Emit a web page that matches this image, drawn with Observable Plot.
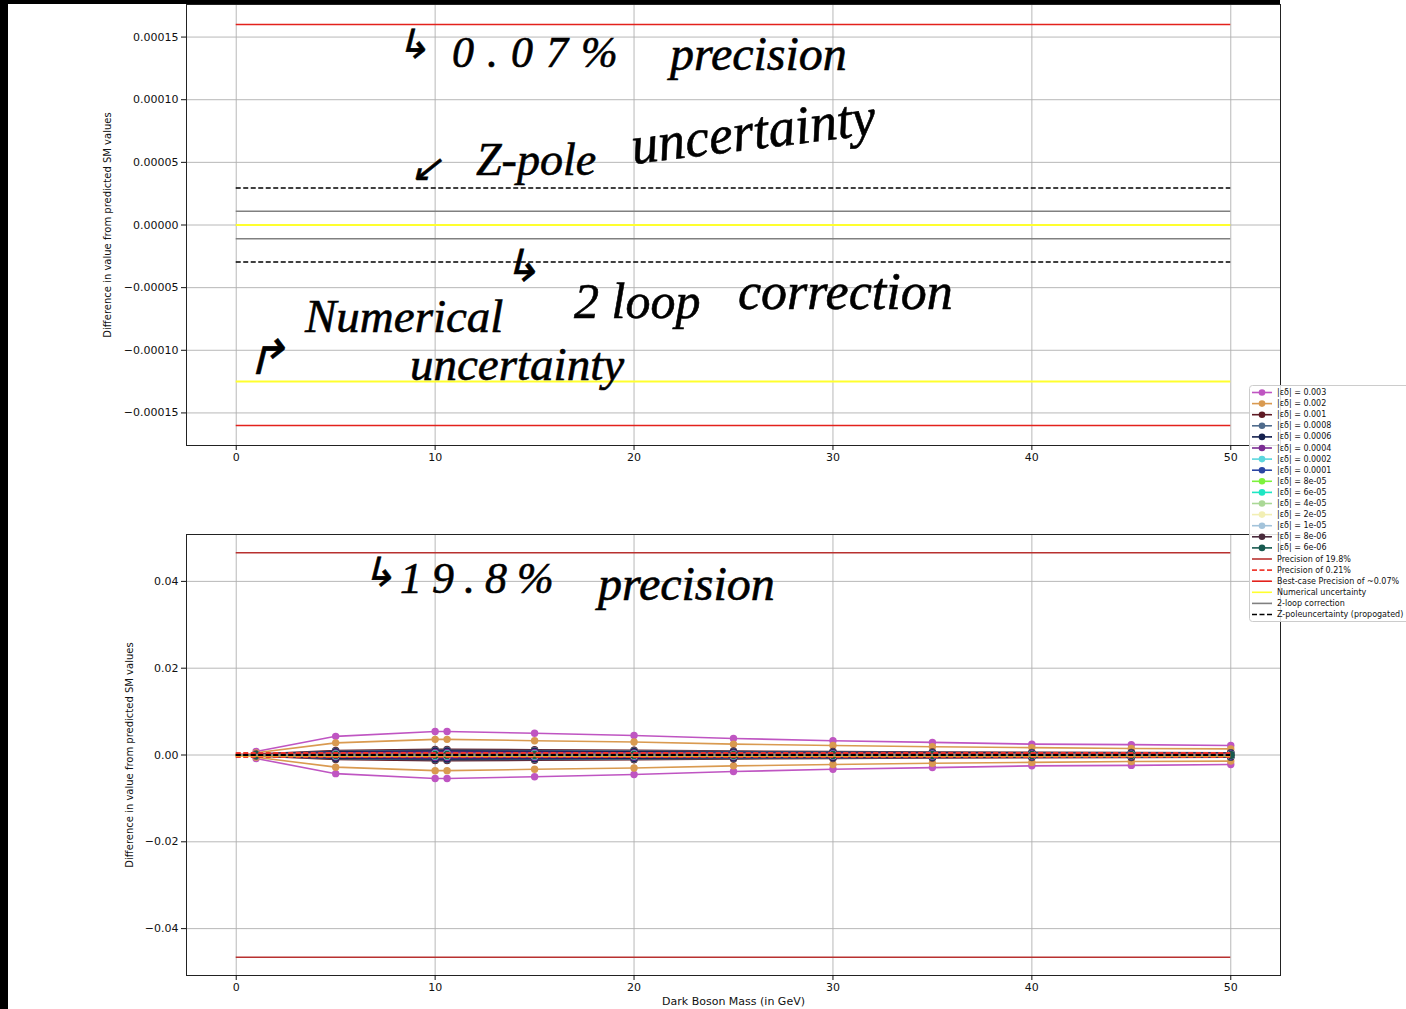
<!DOCTYPE html>
<html>
<head>
<meta charset="utf-8">
<script src="https://cdn.jsdelivr.net/npm/d3@7"></script>
<script src="https://cdn.jsdelivr.net/npm/@observablehq/plot@0.6"></script>
<style>
  body { margin: 0; background: #fff; }
  #page { position: relative; width: 1406px; height: 1009px; overflow: hidden; background: #fff; font-family: "DejaVu Sans", sans-serif; }
  .edge { position: absolute; background: #000; }
  .panel { position: absolute; left: 0; }
  .note { position: absolute; font-family: "Liberation Serif", serif; font-style: italic; color: #000; white-space: nowrap; line-height: 0.85; -webkit-text-stroke: 0.6px #000; }
  #legend { position: absolute; left: 1249px; top: 385px; }
</style>
</head>
<body>
<div id="page">
  <div class="edge" style="left:0;top:0;width:1280px;height:4px;"></div>
  <div class="edge" style="left:0;top:0;width:8px;height:1009px;"></div>
  <div id="top" class="panel" style="top:0;"></div>
  <div id="bottom" class="panel" style="top:490px;"></div>
  <div id="legend"></div>

  <!-- handwritten notes -->
  <div class="note" style="left:396px;top:28px;font-size:40px;">↳</div>
  <div class="note" style="left:452px;top:34px;font-size:44px;letter-spacing:13px;">0.07%</div>
  <div class="note" style="left:670px;top:34px;font-size:48px;">precision</div>

  <div class="note" style="left:410px;top:152px;font-size:38px;">↙</div>
  <div class="note" style="left:476px;top:140px;font-size:46px;">Z-pole</div>
  <div class="note" style="left:634px;top:124px;font-size:54px;transform:rotate(-7deg);transform-origin:left bottom;">uncertainty</div>

  <div class="note" style="left:503px;top:248px;font-size:44px;">↳</div>
  <div class="note" style="left:574px;top:280px;font-size:50px;">2 loop</div>
  <div class="note" style="left:738px;top:270px;font-size:52px;">correction</div>

  <div class="note" style="left:246px;top:338px;font-size:48px;">↱</div>
  <div class="note" style="left:305px;top:297px;font-size:47px;">Numerical</div>
  <div class="note" style="left:410px;top:345px;font-size:47px;">uncertainty</div>

  <div class="note" style="left:362px;top:556px;font-size:40px;">↳</div>
  <div class="note" style="left:400px;top:560px;font-size:44px;letter-spacing:10px;">19.8%</div>
  <div class="note" style="left:598px;top:564px;font-size:48px;">precision</div>
</div>

<script>
// Dark boson masses (GeV) at which each coupling was evaluated
const masses = [1, 5, 10, 10.6, 15, 20, 25, 30, 35, 40, 45, 50];

// Coupling strengths |εδ| and their colours
const couplingLabels = ["0.003", "0.002", "0.001", "0.0008", "0.0006", "0.0004", "0.0002", "0.0001",
  "8e-05", "6e-05", "4e-05", "2e-05", "1e-05", "8e-06", "6e-06"];
const couplingColors = ["#bf55c2", "#d99a50", "#5e1a24", "#4f6b8c", "#15214f", "#7b2d93", "#5bd6dd", "#2b45a3",
  "#7df23c", "#1ee6c3", "#aad896", "#f2efb4", "#a3c3da", "#4a2b3c", "#185a50"];

// Deviation from the SM prediction for each coupling (curves are drawn at ± these values)
const dev_3e3  = [0.0008, 0.0043, 0.0054, 0.0054, 0.0050, 0.0045, 0.0038, 0.0033, 0.0029, 0.0025, 0.0024, 0.0022];
const dev_2e3  = [0.0005, 0.0028, 0.0036, 0.0036, 0.0033, 0.0030, 0.0025, 0.0022, 0.0019, 0.0017, 0.0015, 0.0014];
const dev_1e3  = [0.0002, 0.00104, 0.0013, 0.0013, 0.0012, 0.00108, 0.00091, 0.00079, 0.0007, 0.0006, 0.00057, 0.00053];
const dev_8e4  = [0.00017, 0.00088, 0.0011, 0.0011, 0.00102, 0.00091, 0.00077, 0.00067, 0.00059, 0.00051, 0.00048, 0.00045];
const dev_6e4  = [0.00014, 0.00072, 0.0009, 0.0009, 0.00084, 0.00075, 0.00063, 0.00055, 0.00049, 0.00041, 0.0004, 0.00037];
const dev_4e4  = [0.00009, 0.00048, 0.0006, 0.0006, 0.00056, 0.0005, 0.00042, 0.00037, 0.00032, 0.00028, 0.00026, 0.00025];
const dev_2e4  = [0.00005, 0.00024, 0.0003, 0.0003, 0.00028, 0.00025, 0.00021, 0.00018, 0.00016, 0.00014, 0.00013, 0.00012];
const dev_1e4  = [0.00003, 0.00014, 0.00018, 0.00018, 0.00017, 0.00015, 0.00013, 0.00011, 0.0001, 0.00008, 0.00008, 0.00007];
const dev_8e5  = [0.00002, 0.00011, 0.00014, 0.00014, 0.00013, 0.00012, 0.0001, 0.00009, 0.00008, 0.00006, 0.00006, 0.00006];
const dev_6e5  = [0.000015, 0.00008, 0.0001, 0.0001, 0.00009, 0.00008, 0.00007, 0.00006, 0.00005, 0.00005, 0.00004, 0.00004];
const dev_4e5  = [0.00001, 0.000056, 0.00007, 0.00007, 0.000065, 0.000058, 0.000049, 0.000043, 0.000038, 0.000032, 0.000031, 0.000029];
const dev_2e5  = [0.000006, 0.000032, 0.00004, 0.00004, 0.000037, 0.000033, 0.000028, 0.000024, 0.000022, 0.000018, 0.000018, 0.000016];
const dev_1e5  = [0.000003, 0.000016, 0.00002, 0.00002, 0.000019, 0.000017, 0.000014, 0.000012, 0.000011, 0.000009, 0.000009, 0.000008];
const dev_8e6  = [0.000002, 0.000012, 0.000015, 0.000015, 0.000014, 0.000012, 0.000011, 0.000009, 0.000008, 0.000007, 0.000007, 0.000006];
const dev_6e6  = [0.000002, 0.000008, 0.00001, 0.00001, 0.000009, 0.000008, 0.000007, 0.000006, 0.000005, 0.000005, 0.000004, 0.000004];
const deviations = [dev_3e3, dev_2e3, dev_1e3, dev_8e4, dev_6e4, dev_4e4, dev_2e4, dev_1e4,
  dev_8e5, dev_6e5, dev_4e5, dev_2e5, dev_1e5, dev_8e6, dev_6e6];

// Horizontal reference bands (precision targets and uncertainties)
const refLabels = ["Precision of 19.8%", "Precision of 0.21%", "Best-case Precision of ~0.07%",
  "Numerical uncertainty", "2-loop correction", "Z-poleuncertainty (propogated)"];
const refLevels = [[0.0466, -0.0466], [0.00048, -0.00048], [0.00016, -0.00016],
  [0, -0.000125], [0.000011, -0.000011], [0.0000295, -0.0000295]];
const refColors = ["#b8312f", "#f03c32", "#e3221c", "#ffff2e", "#808080", "#000000"];
const refDashes = [null, "5,2.5", null, null, null, "5,2.5"];
const refWidths = [1.3, 2, 1.5, 2, 1.5, 1.5];
const massStart = 0, massEnd = 50;

// Axis ticks
const massTicks = [0, 10, 20, 30, 40, 50];
const zoomTicks = [-0.00015, -0.0001, -0.00005, 0, 0.00005, 0.0001, 0.00015];
const fullTicks = [-0.04, -0.02, 0, 0.02, 0.04];

const yLabel = "Difference in value from predicted SM values";

const rows = couplingLabels.flatMap((label, k) =>
  masses.map((mass, i) => ({label, k, mass, dev: deviations[k][i]})));

function refMarks() {
  return refLabels.map((lab, k) => Plot.ruleY(refLevels[k], {
    y: d => d, x1: massStart, x2: massEnd,
    stroke: refColors[k], strokeWidth: refWidths[k],
    strokeDasharray: refDashes[k] ?? undefined, clip: true
  }));
}

function curveMarks() {
  const marks = [];
  couplingLabels.forEach((lab, k) => {
    const sub = rows.filter(d => d.k === k);
    const c = couplingColors[k];
    marks.push(
      Plot.line(sub, {x: "mass", y: "dev", stroke: c, strokeWidth: 1.6, clip: true}),
      Plot.dot(sub, {x: "mass", y: "dev", fill: c, r: 3.7, clip: true}),
      Plot.line(sub, {x: "mass", y: d => -d.dev, stroke: c, strokeWidth: 1.6, clip: true}),
      Plot.dot(sub, {x: "mass", y: d => -d.dev, fill: c, r: 3.7, clip: true})
    );
  });
  return marks;
}

function panel({height, marginTop, marginBottom, domain, ticks, format, labelOffset, withCurves, xLabel}) {
  const grid = {stroke: "#b0b0b0", strokeOpacity: 1, strokeWidth: 0.9};
  return Plot.plot({
    width: 1406, height, marginLeft: 186, marginRight: 126, marginTop, marginBottom,
    style: {fontFamily: "DejaVu Sans", fontSize: "11px", color: "#111", background: "transparent"},
    x: {domain: [-2.5, 52.5]},
    y: {domain},
    marks: [
      Plot.gridX({ticks: massTicks, ...grid}),
      Plot.gridY({ticks, ...grid}),
      ...(withCurves ? curveMarks() : []),
      ...refMarks(),
      Plot.frame({stroke: "#222", strokeWidth: 1}),
      Plot.axisX({ticks: massTicks, tickSize: 5, tickPadding: 3, fontSize: 11,
        label: xLabel ?? null, labelAnchor: "center", labelOffset: 29, labelArrow: "none"}),
      Plot.axisY({ticks, tickFormat: d3.format(format), tickSize: 5, tickPadding: 3, fontSize: 11,
        label: yLabel, labelAnchor: "center", labelOffset, labelArrow: "none"})
    ]
  });
}

const topChart = panel({height: 475, marginTop: 4, marginBottom: 30,
  domain: [-0.000176, 0.000176], ticks: zoomTicks, format: ".5f", labelOffset: 83, withCurves: false});
topChart.querySelectorAll('g[aria-label="y-axis label"]').forEach(n => n.setAttribute("font-size", "10"));
document.getElementById("top").append(topChart);

const bottomChart = panel({height: 519, marginTop: 44, marginBottom: 34,
  domain: [-0.0508, 0.0508], ticks: fullTicks, format: ".2f", labelOffset: 61, withCurves: true,
  xLabel: "Dark Boson Mass (in GeV)"});
bottomChart.querySelectorAll('g[aria-label="y-axis label"]').forEach(n => n.setAttribute("font-size", "10"));
document.getElementById("bottom").append(bottomChart);

// Legend: one row per coupling, then the reference lines
const lg = d3.select("#legend").append("svg").attr("width", 170).attr("height", 238)
  .style("font-family", "DejaVu Sans").style("font-size", "8px");
lg.append("rect").attr("x", 0.5).attr("y", 0.5).attr("width", 180).attr("height", 236).attr("rx", 3)
  .attr("fill", "rgba(255,255,255,0.85)").attr("stroke", "#cccccc");
const rowY = i => 7.5 + i * 11.1;
couplingLabels.forEach((lab, k) => {
  const g = lg.append("g").attr("transform", `translate(0,${rowY(k)})`);
  g.append("line").attr("x1", 3).attr("x2", 23).attr("stroke", couplingColors[k]).attr("stroke-width", 1.6);
  g.append("circle").attr("cx", 13).attr("r", 3.3).attr("fill", couplingColors[k]);
  g.append("text").attr("x", 28).attr("dy", "0.32em").attr("fill", "#111").text(`|εδ| = ${lab}`);
});
refLabels.forEach((lab, k) => {
  const g = lg.append("g").attr("transform", `translate(0,${rowY(couplingLabels.length + k)})`);
  g.append("line").attr("x1", 3).attr("x2", 23).attr("stroke", refColors[k]).attr("stroke-width", 1.6)
    .attr("stroke-dasharray", refDashes[k]);
  g.append("text").attr("x", 28).attr("dy", "0.32em").attr("fill", "#111").text(lab);
});
</script>
</body>
</html>
